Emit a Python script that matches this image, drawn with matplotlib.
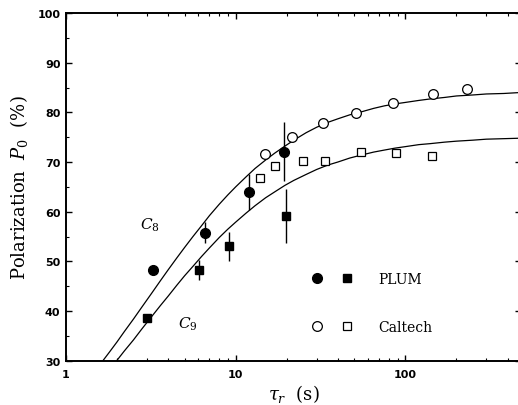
import matplotlib
matplotlib.use("Agg")
import matplotlib.pyplot as plt
from matplotlib.lines import Line2D
from matplotlib.legend_handler import HandlerTuple
from matplotlib.ticker import FixedLocator, LogLocator, NullFormatter, MultipleLocator

# PLUM (filled symbols, with error bars)
plum_c8_tau = [3.25, 6.57, 12.0, 19.2]
plum_c8_p = [48.2, 55.8, 63.9, 72.1]
plum_c8_err = [0.8, 2.2, 3.6, 5.9]

plum_c9_tau = [3.0, 6.08, 9.13, 19.7]
plum_c9_p = [38.6, 48.3, 53.0, 59.1]
plum_c9_err = [0.8, 2.0, 3.0, 5.4]

# Caltech (open symbols)
cal_c8_tau = [14.95, 21.5, 32.8, 51.0, 84.7, 145.6, 232.0]
cal_c8_p = [71.6, 75.0, 77.8, 79.9, 81.9, 83.7, 84.8]

cal_c9_tau = [14.0, 17.0, 25.0, 33.4, 54.4, 87.7, 143.0]
cal_c9_p = [66.8, 69.2, 70.2, 70.2, 72.0, 71.8, 71.3]

# model curves C8 / C9
curve_tau = [1.65, 1.8, 2.0, 2.2, 2.5, 2.8, 3.2, 3.6, 4.0, 4.5, 5.0, 5.6, 6.3,
             7.0, 8.0, 9.0, 10, 11.5, 13, 15, 17, 19.5, 22, 26, 30, 35, 40,
             47, 55, 65, 75, 87, 100, 120, 140, 170, 200, 250, 300, 380, 480]
c8_curve = [30.0, 31.7, 33.8, 35.8, 38.4, 40.8, 43.6, 46.1, 48.3, 50.7, 52.8,
            55.0, 57.2, 59.2, 61.5, 63.4, 65.0, 67.0, 68.7, 70.4, 71.8, 73.2,
            74.4, 75.9, 77.0, 78.0, 78.7, 79.5, 80.1, 80.8, 81.3, 81.7, 82.0,
            82.4, 82.7, 83.0, 83.3, 83.5, 83.7, 83.8, 84.0]
c9_curve = [26.7, 28.2, 30.1, 31.9, 34.2, 36.4, 38.9, 41.1, 43.0, 45.2, 47.1,
            49.0, 51.0, 52.7, 54.8, 56.5, 57.9, 59.7, 61.2, 62.8, 64.0, 65.3,
            66.3, 67.5, 68.5, 69.4, 70.0, 70.8, 71.4, 72.0, 72.4, 72.8, 73.1,
            73.5, 73.7, 74.0, 74.2, 74.4, 74.6, 74.7, 74.8]

plt.rcParams["mathtext.fontset"] = "dejavuserif"

fig = plt.figure(figsize=(5.18, 4.06), dpi=100)
ax = fig.add_axes([0.1274, 0.1091, 0.8784, 0.8564])

ax.plot(curve_tau, c8_curve, color="black", lw=0.9)
ax.plot(curve_tau, c9_curve, color="black", lw=0.9)

ax.errorbar(plum_c8_tau, plum_c8_p, yerr=plum_c8_err, fmt="o", color="black",
            ms=7, elinewidth=1.0, capsize=0)
ax.errorbar(plum_c9_tau, plum_c9_p, yerr=plum_c9_err, fmt="s", color="black",
            ms=6, elinewidth=1.0, capsize=0)
ax.plot(cal_c8_tau, cal_c8_p, "o", mfc="white", mec="black", mew=0.9, ms=7)
ax.plot(cal_c9_tau, cal_c9_p, "s", mfc="white", mec="black", mew=0.9, ms=6)

ax.set_xscale("log")
ax.set_xlim(1, 480)
ax.set_ylim(30, 100)

ax.xaxis.set_major_locator(FixedLocator([1, 10, 100]))
ax.xaxis.set_minor_locator(LogLocator(base=10, subs=range(2, 10)))
ax.xaxis.set_minor_formatter(NullFormatter())
ax.set_xticklabels(["1", "10", "100"])
ax.yaxis.set_major_locator(MultipleLocator(10))
ax.yaxis.set_minor_locator(MultipleLocator(5))

ax.tick_params(which="both", direction="in", top=True, right=True)
ax.tick_params(which="major", length=4.5, width=1.0, labelsize=8, pad=4)
ax.tick_params(axis="x", which="major", pad=6)
ax.tick_params(which="minor", length=2.3, width=0.8)
for lab in ax.get_xticklabels() + ax.get_yticklabels():
    lab.set_fontweight("bold")
for sp in ax.spines.values():
    sp.set_linewidth(1.4)

ax.set_ylabel(r"Polarization  $P_0$  (%)", family="DejaVu Serif", fontsize=13,
              labelpad=5)
ax.set_xlabel(r"$\tau_r$  (s)", family="DejaVu Serif", fontsize=13, labelpad=2)

ax.text(3.13, 57.5, r"$C_8$", fontsize=11, ha="center", va="center")
ax.text(5.21, 37.6, r"$C_9$", fontsize=11, ha="center", va="center")

h_plum = (Line2D([], [], ls="none", marker="o", color="black", ms=7),
          Line2D([], [], ls="none", marker="s", color="black", ms=6))
h_cal = (Line2D([], [], ls="none", marker="o", mfc="white", mec="black", mew=0.9, ms=7),
         Line2D([], [], ls="none", marker="s", mfc="white", mec="black", mew=0.9, ms=6))
ax.legend([h_plum, h_cal], ["PLUM", "Caltech"],
          handler_map={tuple: HandlerTuple(ndivide=None, pad=1.2)},
          loc="upper left", bbox_to_anchor=(0.5357, 0.256), frameon=False,
          prop={"family": "DejaVu Serif", "size": 10}, handlelength=3.2,
          handletextpad=1.73, labelspacing=2.45, borderpad=0, borderaxespad=0)

fig.savefig("out.png", dpi=100)
